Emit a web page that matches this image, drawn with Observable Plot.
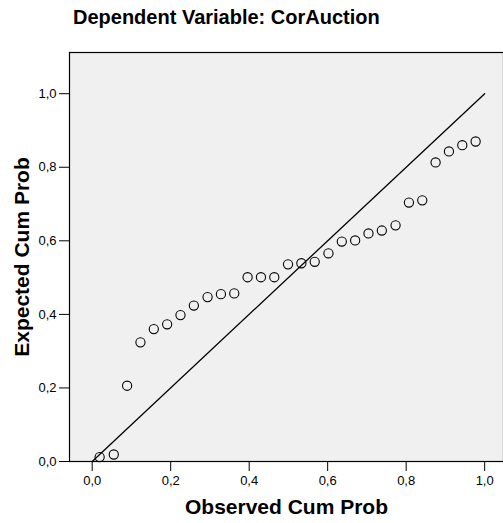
<!DOCTYPE html>
<html>
<head>
<meta charset="utf-8">
<script src="https://cdn.jsdelivr.net/npm/d3@7"></script>
<script src="https://cdn.jsdelivr.net/npm/@observablehq/plot@0.6"></script>
<style>
  html, body { margin: 0; padding: 0; background: #fff; }
  #title { height: 40px; box-sizing: border-box; padding-left: 73px; padding-top: 5px;
           font-family: "Liberation Sans", Arial, sans-serif; font-weight: bold; font-size: 20px; color: #000; line-height: 24px; white-space: nowrap; }
  #chart svg { display: block; }
</style>
</head>
<body>
<div id="title"></div>
<div id="chart"></div>
<script>
const titleText = "Dependent Variable: CorAuction";
const xLabel = "Observed Cum Prob";
const yLabel = "Expected Cum Prob";
const tickValues = [0, 0.2, 0.4, 0.6, 0.8, 1.0];
const observed = [0.019, 0.055, 0.089, 0.123, 0.157, 0.191, 0.225, 0.259, 0.294, 0.328, 0.362, 0.396, 0.430, 0.464, 0.499, 0.533, 0.567, 0.602, 0.636, 0.670, 0.704, 0.738, 0.773, 0.807, 0.841, 0.875, 0.909, 0.943, 0.977];
const expected = [0.012, 0.019, 0.206, 0.324, 0.360, 0.373, 0.398, 0.424, 0.447, 0.455, 0.457, 0.501, 0.501, 0.501, 0.536, 0.539, 0.543, 0.566, 0.598, 0.601, 0.620, 0.628, 0.642, 0.704, 0.710, 0.813, 0.843, 0.860, 0.870];
const refX = [0, 1];
const refY = [0, 1];

document.getElementById("title").textContent = titleText;
const points = observed.map((x, i) => ({x, y: expected[i]}));
const refLine = refX.map((x, i) => ({x, y: refY[i]}));
const fmt = d => d3.format(".1f")(d).replace(".", ",");
const font = "'Liberation Sans', Arial, sans-serif";

const chart = Plot.plot({
  width: 503,
  height: 483,
  marginLeft: 69,
  marginRight: 0,
  marginTop: 12,
  marginBottom: 62,
  style: {fontFamily: font, background: "#fff", color: "#000"},
  x: {domain: [-0.0578, 1.048]},
  y: {domain: [0, 1.112]},
  marks: [
    Plot.frame({fill: "#f0f0f0", stroke: "#000", strokeWidth: 1.2}),
    Plot.axisX(tickValues, {tickSize: 10, tickPadding: 4, tickFormat: fmt, fontSize: 13, label: null, stroke: "#000"}),
    Plot.axisY(tickValues, {tickSize: 10, tickPadding: 3, tickFormat: fmt, fontSize: 13, label: null, stroke: "#000"}),
    Plot.line(refLine, {x: "x", y: "y", stroke: "#000", strokeWidth: 1.3}),
    Plot.dot(points, {x: "x", y: "y", r: 4.6, stroke: "#000", strokeWidth: 1.1, fill: "none"}),
    Plot.text([xLabel], {frameAnchor: "bottom", dy: 46, lineAnchor: "middle", textAnchor: "middle", fontSize: 21, fontWeight: "bold", fill: "#000"}),
    Plot.text([yLabel], {frameAnchor: "left", dx: -47, rotate: -90, lineAnchor: "middle", textAnchor: "middle", fontSize: 21, fontWeight: "bold", fill: "#000"})
  ]
});
document.getElementById("chart").appendChild(chart);
</script>
</body>
</html>
